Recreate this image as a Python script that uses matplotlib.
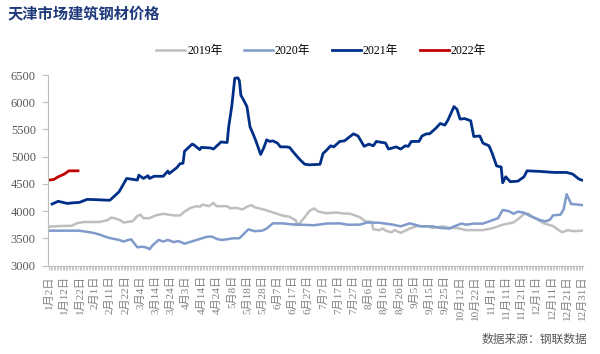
import matplotlib
matplotlib.use("Agg")
import matplotlib.pyplot as plt
import numpy as np

plt.rcParams['font.family'] = ['Liberation Serif', 'Noto Sans CJK SC']

# category index (trading days on a 1月2日..12月31日 axis) and prices
x2019 = [0, 7, 15, 18, 23, 33, 38, 41, 43, 47, 49, 55, 58, 60, 62, 66, 70, 75, 82, 86, 89, 93, 97, 99,
         101, 105, 108, 110, 117, 119, 123, 127, 130, 133, 135, 141, 147, 153, 158, 162, 163, 165, 168,
         171, 174, 177, 182, 189, 192, 198, 204, 208, 212, 213, 217, 219, 222, 225, 227, 231, 237, 242,
         248, 252, 259, 263, 268, 274, 285, 292, 298, 305, 309, 312, 315, 318, 325, 331, 337, 341, 344, 350]
y2019 = [3715, 3725, 3730, 3775, 3800, 3800, 3830, 3880, 3870, 3830, 3790, 3815, 3910, 3935, 3870, 3870,
         3920, 3950, 3920, 3920, 3990, 4060, 4090, 4080, 4120, 4090, 4150, 4090, 4090, 4050, 4060, 4030,
         4080, 4110, 4070, 4030, 3975, 3920, 3895, 3830, 3750, 3790, 3890, 4000, 4050, 3990, 3960, 3975,
         3960, 3950, 3890, 3810, 3800, 3665, 3650, 3680, 3630, 3610, 3650, 3600, 3680, 3725, 3720, 3690,
         3720, 3690, 3690, 3650, 3650, 3690, 3750, 3790, 3870, 3950, 3950, 3890, 3775, 3725, 3610, 3650,
         3630, 3640]

x2020 = [0, 20, 29, 33, 39, 46, 49, 52, 54, 55, 58, 61, 64, 66, 68, 72, 75, 78, 82, 85, 89, 97, 104, 107,
         111, 114, 121, 125, 131, 135, 140, 143, 147, 153, 158, 163, 165, 174, 182, 191, 196, 204, 209,
         217, 226, 231, 237, 244, 252, 257, 263, 268, 271, 274, 279, 285, 290, 295, 298, 302, 305, 308,
         312, 316, 322, 326, 329, 331, 336, 338, 340, 343, 347, 350]
y2020 = [3640, 3640, 3600, 3570, 3510, 3470, 3440, 3470, 3480, 3440, 3335, 3345, 3330, 3300, 3370, 3470,
         3440, 3470, 3430, 3450, 3400, 3470, 3530, 3530, 3480, 3470, 3500, 3500, 3665, 3630, 3640, 3680,
         3775, 3775, 3760, 3750, 3750, 3740, 3770, 3775, 3750, 3750, 3790, 3785, 3750, 3720, 3775, 3720,
         3720, 3690, 3680, 3740, 3770, 3750, 3770, 3770, 3820, 3870, 4020, 4000, 3950, 3990, 3970, 3910,
         3840, 3810, 3840, 3920, 3935, 4030, 4310, 4130, 4120, 4110]

x2021 = [2, 6, 12, 15, 20, 25, 31, 38, 40, 46, 51, 58, 59, 62, 65, 66, 69, 75, 78, 79, 84, 86, 88, 89, 94,
         95, 99, 100, 106, 108, 113, 117, 118, 120, 122, 124, 125, 126, 128, 130, 132, 134, 136, 139, 141,
         143, 145, 147, 150, 152, 156, 158, 160, 164, 165, 168, 171, 178, 180, 182, 185, 187, 191, 194,
         200, 203, 207, 210, 213, 215, 221, 223, 228, 231, 234, 236, 238, 243, 245, 248, 250, 254, 257,
         260, 262, 266, 268, 270, 273, 277, 279, 283, 285, 289, 291, 294, 297, 298, 300, 303, 308, 312,
         314, 322, 327, 332, 340, 344, 348, 350]
y2021 = [4130, 4180, 4140, 4150, 4160, 4215, 4210, 4200, 4200, 4355, 4600, 4570, 4660, 4600, 4650, 4600,
         4640, 4640, 4735, 4690, 4800, 4870, 4880, 5100, 5230, 5220, 5130, 5170, 5160, 5140, 5270, 5260,
         5550, 5920, 6440, 6450, 6400, 6130, 6030, 5920, 5550, 5420, 5280, 5040, 5160, 5310, 5280, 5290,
         5250, 5180, 5180, 5170, 5100, 4970, 4940, 4860, 4850, 4860, 5060, 5110, 5200, 5180, 5280, 5290,
         5420, 5380, 5190, 5230, 5200, 5280, 5250, 5140, 5180, 5140, 5200, 5190, 5280, 5280, 5380, 5420,
         5420, 5520, 5610, 5580, 5670, 5920, 5870, 5690, 5700, 5660, 5370, 5380, 5250, 5200, 5070, 4830,
         4810, 4520, 4630, 4540, 4550, 4630, 4740, 4730, 4720, 4710, 4710, 4680, 4590, 4570]

x2022 = [0, 3, 6, 10, 13, 19]
y2022 = [4570, 4580, 4630, 4680, 4740, 4740]

tick_labels = ['1月2日', '1月12日', '1月22日', '2月1日', '2月11日', '2月22日', '3月4日', '3月14日',
               '3月24日', '4月3日', '4月14日', '4月24日', '5月8日', '5月18日', '5月28日', '6月7日',
               '6月17日', '6月27日', '7月7日', '7月17日', '7月27日', '8月6日', '8月16日', '8月26日',
               '9月5日', '9月15日', '9月25日', '10月12日', '10月22日', '11月1日', '11月11日', '11月21日',
               '12月1日', '12月11日', '12月21日', '12月31日']

fig = plt.figure(figsize=(6, 3.54), dpi=100)
ax = fig.add_axes([0.0805, 0.25, 0.8905, 0.538])

ax.plot(x2019, y2019, color='#BFBFBF', lw=1.8, label='2019年')
ax.plot(x2020, y2020, color='#7F9ACB', lw=1.8, label='2020年')
ax.plot(x2021, y2021, color='#002F87', lw=2.0, label='2021年')
ax.plot(x2022, y2022, color='#C00000', lw=2.0, label='2022年')

ax.set_xlim(-0.5, 350.5)
ax.set_ylim(3000, 6500)
ax.set_yticks(np.arange(3000, 6501, 500))
ax.set_xticks(np.arange(0, 351, 10))
ax.set_xticklabels(tick_labels, rotation=90, fontsize=8, color='#7F7F7F')
ax.set_xticks(np.arange(0, 351, 1), minor=True)
ax.tick_params(axis='x', which='both', length=3, color='#BFBFBF', pad=4)
ax.tick_params(axis='y', length=4, color='#BFBFBF', labelsize=9, labelcolor='#595959', pad=5)

for s in ['top', 'right']:
    ax.spines[s].set_visible(False)
for s in ['left', 'bottom']:
    ax.spines[s].set_color('#BFBFBF')

fig.legend(loc='center', bbox_to_anchor=(0.535, 0.855), ncol=4, frameon=False, fontsize=8.5,
           handlelength=2.45, handletextpad=0.2, columnspacing=1.8)

fig.text(0.013, 0.96, '天津市场建筑钢材价格', fontsize=11, fontweight='bold', color='#1F3A7A',
         va='center', ha='left')
fig.text(0.978, 0.04, '数据来源：钢联数据', fontsize=8.5, color='#595959', va='center', ha='right')

fig.savefig('out.png', dpi=100)
